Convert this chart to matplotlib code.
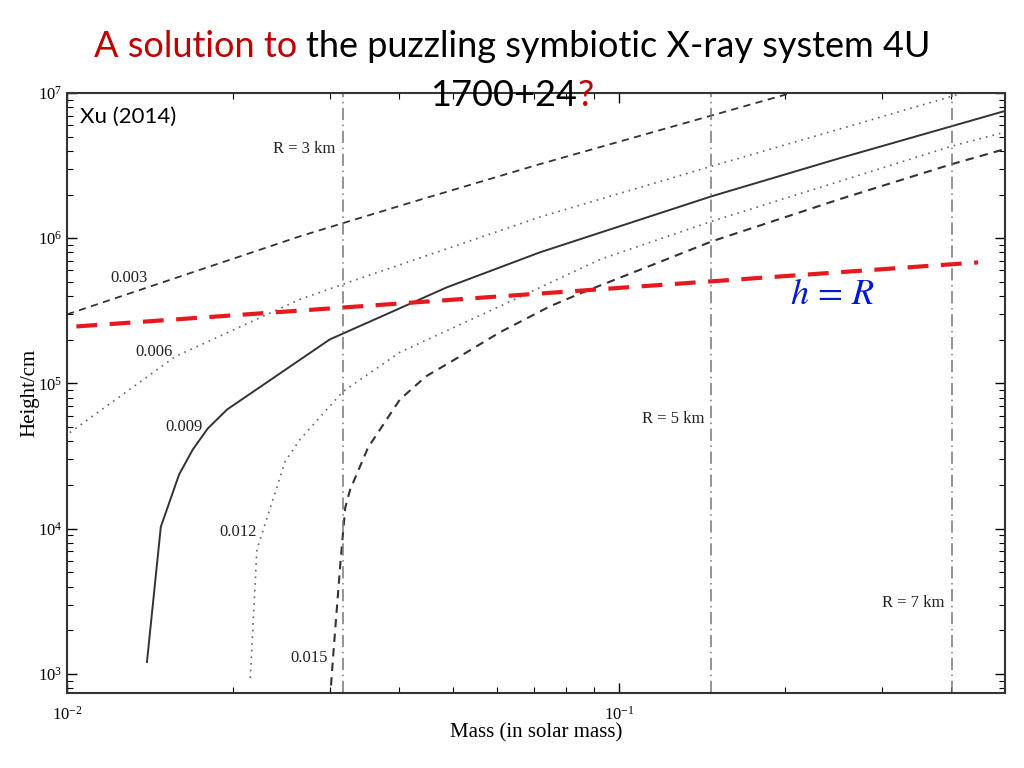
import matplotlib
matplotlib.use("Agg")
import matplotlib.pyplot as plt

plt.rcParams['font.family'] = ['Liberation Serif', 'DejaVu Serif']
plt.rcParams['mathtext.fontset'] = 'stix'

# curves: mass (solar masses) vs height (cm)
m_003 = [0.0100, 0.0264, 0.0316, 0.0440, 0.0719, 0.205]
h_003 = [2.99e5, 1.03e6, 1.27e6, 1.86e6, 3.24e6, 1.0e7]

m_006 = [0.01012, 0.0157, 0.0264, 0.0316, 0.0719, 0.1474, 0.251, 0.420]
h_006 = [4.59e4, 1.53e5, 3.79e5, 4.82e5, 1.40e6, 3.14e6, 5.65e6, 1.0e7]

m_009 = [0.01396, 0.01479, 0.01596, 0.01690, 0.01799, 0.01950, 0.02992,
         0.04875, 0.0719, 0.1474, 0.2512, 0.5]
h_009 = [1.21e3, 1.03e4, 2.36e4, 3.51e4, 4.90e4, 6.62e4, 2.01e5,
         4.59e5, 8.0e5, 1.95e6, 3.56e6, 7.52e6]

m_012 = [0.02148, 0.02208, 0.02483, 0.02642, 0.03162, 0.04009, 0.06081,
         0.09247, 0.1474, 0.2512, 0.4009, 0.5]
h_012 = [938, 7.16e3, 2.90e4, 4.11e4, 8.81e4, 1.64e5, 3.40e5,
         7.16e5, 1.31e6, 2.47e6, 4.31e6, 5.38e6]

m_015 = [0.02995, 0.03034, 0.03126, 0.03192, 0.03258, 0.03436, 0.03510,
         0.03690, 0.04009, 0.04470, 0.04943, 0.06081, 0.07499, 0.08610,
         0.1474, 0.2512, 0.4009, 0.5]
h_015 = [661, 1.31e3, 5.65e3, 1.40e4, 1.86e4, 2.99e4, 3.62e4,
         4.82e4, 7.76e4, 1.12e5, 1.40e5, 2.25e5, 3.40e5, 4.25e5,
         9.53e5, 1.86e6, 3.24e6, 4.11e6]

# h = R line
m_hr = [0.0104, 0.447]
h_hr = [2.47e5, 6.82e5]

# neutron-star radius markers
r_mass = [0.0316, 0.147, 0.401]

fig = plt.figure(figsize=(10.24, 7.68), dpi=100)
ax = fig.add_axes([0.0654, 0.0977, 0.916, 0.7812])

dark = '#333333'
ax.plot(m_003, h_003, color=dark, lw=1.3, linestyle=(0, (4, 3)))
ax.plot(m_006, h_006, color='#666666', lw=1.2, linestyle=(0, (1, 3)))
ax.plot(m_009, h_009, color=dark, lw=1.4)
ax.plot(m_012, h_012, color='#666666', lw=1.2, linestyle=(0, (1, 3)))
ax.plot(m_015, h_015, color=dark, lw=1.5, linestyle=(0, (4, 3)))
ax.plot(m_hr, h_hr, color='#e8191e', lw=3, linestyle=(0, (5, 3)))

for m in r_mass:
    ax.axvline(m, color='#777777', lw=1.1, linestyle=(0, (8, 3, 1, 3)))

ax.set_xscale('log')
ax.set_yscale('log')
ax.set_xlim(0.01, 0.5)
ax.set_ylim(7.4e2, 1.0e7)

ax.tick_params(which='both', direction='in', top=True, right=True, labelsize=12)
ax.tick_params(which='major', length=7, width=1)
ax.tick_params(which='minor', length=4, width=0.8)
ax.tick_params(axis='x', pad=9)
for s in ax.spines.values():
    s.set_linewidth(1.5)
    s.set_color('#333333')

ax.set_xlabel('Mass (in solar mass)', fontsize=15, labelpad=0)
ax.set_ylabel('Height/cm', fontsize=15, labelpad=-1)

tkw = dict(transform=ax.transAxes, fontsize=12, color='#222222', va='center')
ax.text(0.2857, 0.907, 'R = 3 km', ha='right', **tkw)
ax.text(0.680, 0.457, 'R = 5 km', ha='right', **tkw)
ax.text(0.936, 0.150, 'R = 7 km', ha='right', **tkw)
ax.text(0.0458, 0.692, '0.003', ha='left', **tkw)
ax.text(0.0725, 0.568, '0.006', ha='left', **tkw)
ax.text(0.1045, 0.443, '0.009', ha='left', **tkw)
ax.text(0.163, 0.268, '0.012', ha='left', **tkw)
ax.text(0.2377, 0.058, '0.015', ha='left', **tkw)

ax.text(0.0139, 0.960, 'Xu (2014)', transform=ax.transAxes, fontsize=16,
        family='Lato', ha='left', va='center')
ax.text(0.771, 0.662, r'$h\,=\,R$', transform=ax.transAxes, fontsize=26,
        color='#0018d8', ha='left', va='center')

# two-colour title drawn piece by piece
red = '#c00000'
fig.canvas.draw()
rend = fig.canvas.get_renderer()


def colored_line(parts, y, size):
    texts = []
    for s, c in parts:
        t = fig.text(0, y, s, color=c, fontsize=size, family='Lato', va='center')
        texts.append(t)
    widths = [t.get_window_extent(rend).width for t in texts]
    total = sum(widths)
    x = (fig.bbox.width - total) / 2
    for t, w in zip(texts, widths):
        t.set_x(x / fig.bbox.width)
        x += w


colored_line([('A solution to ', red),
              ('the puzzling symbiotic X-ray system 4U', 'black')], 0.939, 26)
colored_line([('1700+24', 'black'), ('?', red)], 0.876, 26)

fig.savefig('out.png', dpi=100)
